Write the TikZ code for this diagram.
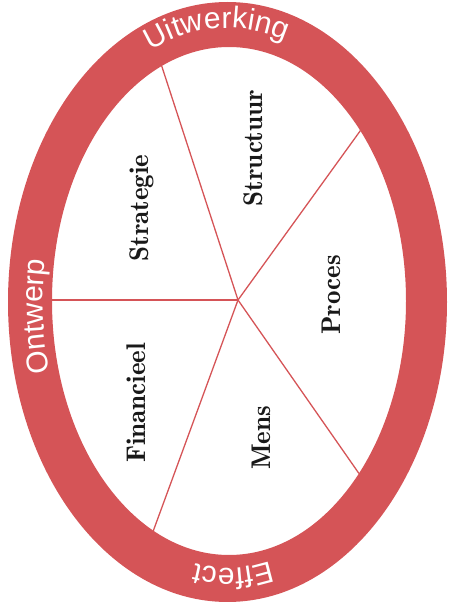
\documentclass[tikz,border=0pt]{standalone}
\usepackage{fontspec}
\setsansfont{Liberation Sans}
\newfontfamily\sectorfont{lmromandemi10-regular}[Extension=.otf]
\usetikzlibrary{decorations.text}
\definecolor{ringred}{RGB}{213,84,87}
\newcommand\ringlabelfont{\fontsize{30}{30}\selectfont\sffamily}
\begin{document}
\begin{tikzpicture}[x=1pt,y=1pt,
  sector/.style={rotate=90, anchor=base, font=\sectorfont\fontsize{27}{30}\selectfont, text=black!90, inner sep=0pt},
  spoke/.style={draw=ringred, line width=1.3pt},
  ringlabel/.style={decorate, decoration={text along path, text align=center, text color=white, text={#1}}}]
\useasboundingbox (0,0) rectangle (448,614);
% ring
\fill[ringred, even odd rule] (227.5,312) ellipse [x radius=219.5pt, y radius=300pt]
                              (229,313) ellipse [x radius=177pt, y radius=254pt];
% spokes
\coordinate (c) at (238,314);
\coordinate (pl) at (52,314);
\coordinate (pul) at (161.7,548);
\coordinate (pur) at (360.4,483.4);
\coordinate (pdr) at (358.9,140.6);
\coordinate (pdl) at (153.3,83.2);
\draw[spoke] (c) -- (pl);
\draw[spoke] (c) -- (pul);
\draw[spoke] (c) -- (pur);
\draw[spoke] (c) -- (pdr);
\draw[spoke] (c) -- (pdl);
% sector labels
\node[sector] (strategie) at (148,406) {Strategie};
\node[sector] (structuur) at (262,466) {Structuur};
\node[sector] (proces) at (340,319) {Proces};
\node[sector] (financieel) at (145,211) {Financieel};
\node[sector] (mens) at (270,176) {Mens};
% ring labels
\path[ringlabel={|\ringlabelfont|Uitwerking}] ([shift={(227.5,312)}]147.5:193.5 and 274) arc [start angle=147.5, end angle=37.5, x radius=193.5, y radius=274];
\path[ringlabel={|\ringlabelfont|Ontwerp}] ([shift={(227.5,312)}]223.5:184.5 and 265) arc [start angle=223.5, end angle=143.5, x radius=184.5, y radius=265];
\path[ringlabel={|\ringlabelfont|Effect}] ([shift={(227.5,312)}]311.4:185.5 and 266) arc [start angle=311.4, end angle=231.4, x radius=185.5, y radius=266];
\end{tikzpicture}
\end{document}
